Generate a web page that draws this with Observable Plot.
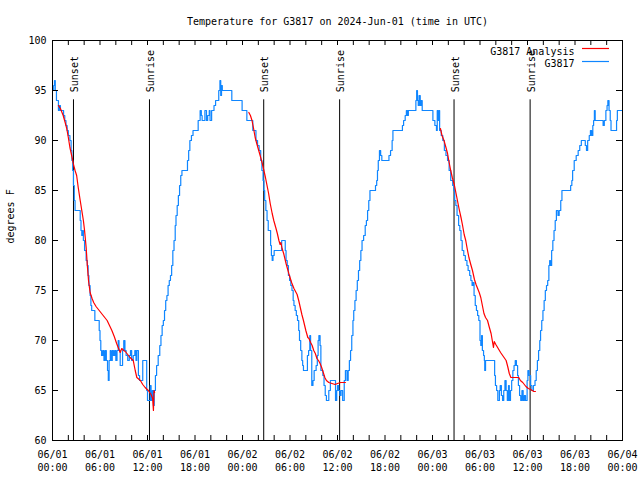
<!DOCTYPE html>
<html>
<head>
<meta charset="utf-8">
<script src="https://cdn.jsdelivr.net/npm/d3@7"></script>
<script src="https://cdn.jsdelivr.net/npm/@observablehq/plot@0.6"></script>
<style>
  html, body { margin: 0; padding: 0; background: #ffffff; }
  #chart svg { display: block; }
</style>
</head>
<body>
<div id="chart"></div>
<script>
// ---- data (hours after 2024-06-01 00:00 UTC) ----
const titleText = "Temperature for G3817 on 2024-Jun-01 (time in UTC)";
const yLabel = "degrees F";
const seriesNames = ["G3817 Analysis", "G3817"];

const obsHours = [
  0.0,0.15,0.25,0.35,0.5,0.6,0.75,0.85,1.0,1.4,1.55,1.7,1.85,2.0,2.2,2.35,2.45,2.55,2.65,2.75,2.85,
  3.5,3.6,3.7,3.8,3.9,4.05,4.25,4.4,4.5,4.6,4.75,4.85,4.95,5.35,5.9,6.0,6.1,6.2,
  6.35,6.5,6.65,6.8,6.95,7.05,7.15,7.3,7.4,7.55,7.7,7.85,8.0,8.15,8.3,8.4,8.55,8.7,8.85,9.0,9.15,9.3,9.5,9.7,9.85,10.0,10.2,10.4,10.55,10.65,
  10.85,11.0,11.4,11.9,12.0,12.35,12.45,12.6,12.75,12.85,13.0,13.15,13.35,13.55,13.7,13.85,14.0,14.15,14.3,14.45,14.6,14.75,14.9,15.05,15.2,15.35,
  15.5,15.6,15.75,15.9,16.05,16.2,16.35,17.05,17.2,17.35,17.55,17.75,18.4,18.65,18.8,18.9,19.25,19.45,19.6,19.8,19.9,20.1,20.4,20.6,21.0,21.15,21.25,21.35,21.45,
  22.65,23.95,
  24.55,25.3,25.7,25.9,26.1,26.3,26.45,26.6,26.7,26.8,26.95,27.1,27.25,27.55,27.65,27.75,27.85,28.0,28.95,29.4,29.5,29.65,29.8,29.95,30.1,30.25,30.4,30.5,30.65,30.8,30.95,
  31.1,31.2,31.35,31.5,31.6,31.7,32.0,32.2,32.35,32.5,32.6,32.75,32.9,33.05,33.3,33.45,33.55,33.65,33.8,33.9,34.15,34.3,34.45,34.6,34.9,35.1,
  35.75,35.9,36.0,36.15,36.3,36.45,36.65,36.85,37.0,37.2,37.35,37.5,37.65,37.8,37.95,38.05,38.2,38.35,38.5,38.65,38.8,38.95,39.1,39.3,39.5,
  39.65,39.8,39.95,40.1,40.8,40.95,41.05,41.15,41.3,41.45,41.6,42.5,42.7,42.9,43.0,44.2,44.35,44.55,44.7,44.85,44.95,45.9,46.0,46.1,46.2,46.3,46.45,46.55,46.7,46.9,
  48.05,48.3,48.5,48.6,48.7,48.8,48.9,49.1,49.3,49.5,49.7,49.9,50.1,50.3,50.55,50.7,50.8,50.95,51.1,51.3,51.45,51.6,51.75,51.95,52.15,52.35,52.5,52.7,52.85,53.0,53.1,
  53.25,53.4,53.55,53.7,53.85,54.0,54.1,54.2,54.3,54.45,54.55,54.6,54.7,55.85,55.95,56.1,56.25,56.45,56.55,56.7,56.85,57.0,57.15,57.3,57.45,57.6,57.7,57.85,
  58.0,58.15,58.3,58.45,58.6,58.75,58.85,59.0,59.15,59.3,59.45,59.6,59.75,59.95,60.05,60.2,60.4,60.55,60.75,60.95,61.1,61.25,61.4,61.55,61.65,61.8,61.95,
  62.1,62.25,62.4,62.55,62.7,62.8,62.9,63.05,63.2,63.35,63.5,63.65,63.85,64.0,64.2,64.35,65.45,65.6,65.7,65.9,66.15,66.4,66.6,66.8,67.3,67.45,67.6,67.8,67.95,
  68.1,68.25,68.35,68.45,68.55,69.55,69.7,69.9,70.05,70.15,70.3,70.45,70.55,71.25,71.35,72.0
];
const obsTemps = [
  95,95.5,96,95,94,94,93,93.5,93,92.5,92,91.5,91,90.5,90,89,88,87,85.5,84,83,
  82,81,80.5,81,80,79,78,77.5,76.5,75.5,74.5,73.5,73,72,71,70,69,68.5,
  69,68,69,68,67,66,68,69,68,69,68.5,69,68,69,70,69,67.5,67.5,69,70,69,68.5,68,68.5,69,68,68.5,69,68,69,
  66.5,66,68,65,64,65.5,64,65,63.5,65,66.5,67.5,68.5,69.5,70.5,71.5,72,73,74,74.5,75.5,76,76.5,77.5,79,80,
  81.5,82.5,83.5,84.5,85.5,86.5,87,88,89,90,90.5,91,92,93,92.5,92,93,92,92.5,93,92,93,93.5,94,95,96,94.5,95.5,95,
  94,93,
  92,91,90,89.5,89,88,87,86,85,84,83,82,81,79.5,78.5,78,78.5,79,80,79,78,77.5,76.5,76,75.5,75,74,73.5,73,72.5,72,
  71,70,69,68,67.5,67,67,68.5,69,70.5,69,65.5,66,67,67.5,68.5,70,70.5,69.5,67,66.5,65.5,64.5,64,65,66,
  64,65,65.5,65,64.5,65,64,66,67,66,67,68,69,70.5,72,73,74,75,76,77,78,79,80,80.5,81.5,
  82,83,84,85,85.5,86,87,88,89,88.5,88,88.5,89,90,91,91.5,92,92.5,93,92.5,93,94,95,94,93.5,94.5,93.5,94,93,93,
  92,91.5,91,93,92,93,91,90.5,90,89,88.5,88,87,86,85.5,85,84,83.5,82.5,81.5,81,80,79,78.5,78,77.5,77,76.5,76,75.5,75.8,
  74.5,73.5,73,72.5,72,70,69.5,70.5,69,68.5,68,67,68,66.5,65.5,65,64,65,65.5,64.5,64,65,66,65,64,65.5,64,65,
  66,67,67.5,68,67.5,66.5,65.5,64.5,64,65,64,64.5,64,66,67,66.5,65.5,65,65.5,66,67,68,69,70,71,72,73,
  74,75,75.5,76,77.5,78,77.5,79,80,81,82,83,82.5,83,84,85,85.5,86,87,88,88.5,89,89.5,90,89.5,89,90,90.5,91,
  90.5,91.5,92,93,92,91.5,92,93,93.5,94,93,92,91,92,93,93
];

// analysis (red): three night segments
const anaHours = [
  0.75,1.0,1.35,1.6,1.8,2.0,2.2,2.45,2.65,2.85,3.05,3.25,3.5,3.7,3.9,4.05,4.25,4.4,4.55,4.75,5.0,5.2,5.5,5.8,6.3,6.9,7.2,7.5,7.8,8.1,8.35,8.55,8.75,9.0,9.2,9.5,9.8,10.2,10.45,10.65,11.1,11.4,11.7,12.1,12.45,12.65,12.75,12.82,12.9,
  24.8,25.0,25.2,25.4,25.6,25.8,26.05,26.3,26.5,26.7,26.9,27.1,27.3,27.5,27.75,27.95,28.2,28.4,28.6,28.75,28.85,29.0,29.2,29.5,29.85,30.2,30.5,30.7,30.9,31.1,31.3,31.5,31.7,32.0,32.25,32.4,32.6,32.8,33.0,33.2,33.4,33.6,33.8,34.0,34.2,34.4,34.6,34.9,35.3,35.7,36.0,36.4,37.0,
  49.0,49.2,49.45,49.7,49.9,50.1,50.3,50.5,50.75,50.95,51.15,51.35,51.6,51.8,52.0,52.2,52.4,52.6,52.8,53.05,53.3,53.5,53.7,53.9,54.1,54.3,54.5,54.7,54.95,55.15,55.4,55.55,55.7,55.8,56.0,56.3,56.6,56.95,57.3,57.5,57.7,57.9,58.9,59.1,59.4,59.8,60.1,60.4,60.8,60.9,61.0
];
const anaTemps = [
  93.5,93.2,92.5,91.8,91.2,90.3,89.3,88.4,87.6,87,86.5,85.3,84,83,82,81,79.3,77.5,76,74.8,74.2,73.8,73.4,73.1,72.6,72,71.5,71,70.4,69.7,69.2,68.8,69.2,69,68.9,68.6,68.3,68,67,66.3,66,65.6,65.3,65,64.6,64.2,63,65,64.8,
  92.8,92.5,92,91.2,90.3,89.7,89,88.3,87.7,87,86.3,85.5,84.7,83.7,82.7,82,81.3,80.7,80,79.6,79.8,79.2,78.7,77.7,76.7,75.8,75.2,74.9,74.6,74,73.3,72.6,72,71,70.3,70.2,69.8,69.5,69,68.7,68.2,68,67.7,67.3,66.8,66.3,66,65.8,65.7,65.6,65.7,65.8,65.8,
  91.2,90.5,90,89.3,88.7,87.8,87,86.3,85.6,84.8,84,83.2,82.3,81.5,80.6,80,79.1,78.3,77.7,77,76.1,75.6,75.2,74.8,74.3,73.5,72.7,72.3,72,71.4,70.7,70,69.3,69.9,69.6,69.2,68.8,68.4,68,67.4,66.7,66.3,66.3,66,65.8,65.4,65.2,65.1,64.9,64.9,64.9
];

const eventLabels = ["Sunset","Sunrise","Sunset","Sunrise","Sunset","Sunrise"];
const eventHours  = [2.65, 12.25, 26.68, 36.27, 50.72, 60.33];

const xTickHours = [0,6,12,18,24,30,36,42,48,54,60,66,72];
const xMinorHours = [0,2,4,6,8,10,12,14,16,18,20,22,24,26,28,30,32,34,36,38,40,42,44,46,48,50,52,54,56,58,60,62,64,66,68,70,72];
const yTicks = [60,65,70,75,80,85,90,95,100];

// ---- build ----
const base = Date.UTC(2024, 5, 1);
const toDate = h => new Date(base + h * 3600e3);
const obs = obsHours.map((h, i) => ({t: toDate(h), v: obsTemps[i]}));
const ana = anaHours.map((h, i) => ({t: toDate(h), v: anaTemps[i], day: Math.floor(h / 24)}));
const events = eventHours.map((h, i) => ({t: toDate(h), label: eventLabels[i]}));
const xTicks = xTickHours.map(toDate);
const xMinor = xMinorHours.map(toDate);
const fmtD = d3.utcFormat("%m/%d"), fmtT = d3.utcFormat("%H:%M");

const blue = "#0f86ff", red = "#ff0000";
const font = "DejaVu Sans Mono";

const chart = Plot.plot({
  width: 640, height: 480,
  marginLeft: 52, marginRight: 18, marginTop: 40, marginBottom: 40,
  style: {fontFamily: font, fontSize: "10px", background: "#ffffff", color: "#000"},
  x: {type: "utc", domain: [toDate(0), toDate(72)]},
  y: {domain: [60, 100]},
  marks: [
    Plot.ruleX(events, {x: "t", y1: 60, y2: 94.07, stroke: "#000", strokeWidth: 1}),
    Plot.text(events, {x: "t", y: 94.83, text: "label", rotate: -90, textAnchor: "start", lineAnchor: "middle", dx: 1.5, fill: "#000", fontSize: 10}),
    Plot.line(obs, {x: "t", y: "v", stroke: blue, strokeWidth: 1.2, curve: "step-after"}),
    Plot.line(ana, {x: "t", y: "v", z: "day", stroke: red, strokeWidth: 1.2}),
    // inward ticks
    Plot.tickX(xMinor, {x: d => d, insetTop: 395, stroke: "#000"}),
    Plot.tickX(xMinor, {x: d => d, insetBottom: 395, stroke: "#000"}),
    Plot.tickY(yTicks, {y: d => d, insetRight: 564, stroke: "#000"}),
    Plot.tickY(yTicks, {y: d => d, insetLeft: 564, stroke: "#000"}),
    Plot.frame({stroke: "#000", strokeWidth: 1}),
    Plot.axisX({ticks: xTicks, tickSize: 0, tickPadding: 9, lineHeight: 1.25, label: null,
      tickFormat: d => fmtD(d) + "\n" + fmtT(d), fontSize: 10}),
    Plot.axisY({ticks: yTicks, tickSize: 0, tickPadding: 6, label: null, fontSize: 10}),
    Plot.text([yLabel], {frameAnchor: "left", rotate: -90, dx: -42, dy: 3, fontSize: 10, fill: "#000"}),
    Plot.text([titleText], {frameAnchor: "top", dy: -23, fontSize: 10, fill: "#000"}),
    Plot.text([seriesNames[0]], {frameAnchor: "top-right", dx: -48, dy: 7, textAnchor: "end", fontSize: 10, fill: "#000"}),
    Plot.text([seriesNames[1]], {frameAnchor: "top-right", dx: -48, dy: 19.5, textAnchor: "end", fontSize: 10, fill: "#000"})
  ]
});

// legend sample lines
const svg = d3.select(chart);
svg.append("line").attr("x1", 582).attr("x2", 609).attr("y1", 48.5).attr("y2", 48.5)
  .attr("stroke", red).attr("stroke-width", 1.2);
svg.append("line").attr("x1", 582).attr("x2", 609).attr("y1", 61.5).attr("y2", 61.5)
  .attr("stroke", blue).attr("stroke-width", 1.2);

document.getElementById("chart").appendChild(chart);
</script>
</body>
</html>
